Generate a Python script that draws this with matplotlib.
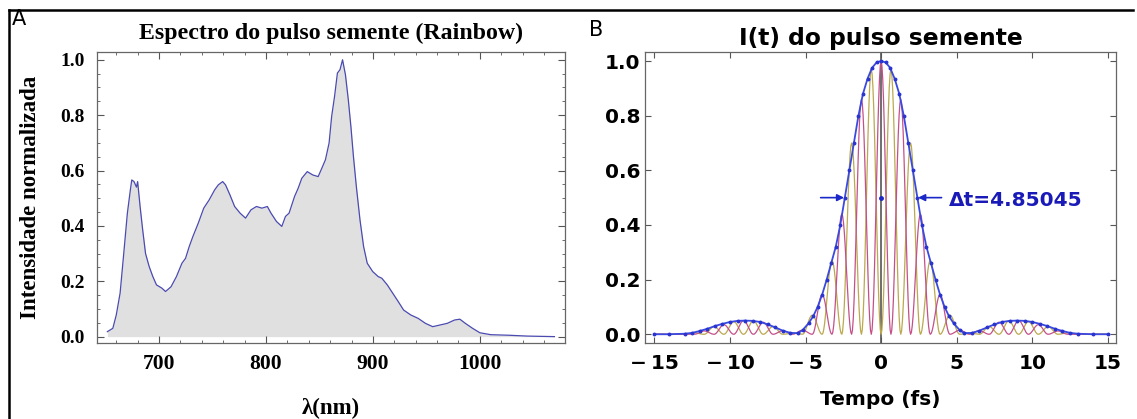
import matplotlib
matplotlib.use("Agg")
import matplotlib.pyplot as plt
import numpy as np
from matplotlib.lines import Line2D
from matplotlib.ticker import MultipleLocator, FuncFormatter

# Panel A: spectrum
wl = [651.7, 656.8, 660.0, 663.6, 667.0, 670.4, 673.2, 674.5, 676.6, 678.9, 680.0,
      682.3, 684.7, 687.4, 690.8, 694.2, 697.6, 702.7, 706.1, 711.2, 716.3, 721.4,
      724.8, 728.2, 731.6, 736.7, 741.8, 746.9, 752.0, 755.4, 759.5, 762.2, 766.3,
      770.7, 775.8, 780.9, 786.0, 791.1, 796.2, 801.3, 804.7, 809.8, 814.8, 818.2,
      821.6, 826.7, 830.1, 833.5, 838.6, 843.7, 848.8, 852.2, 855.6, 859.0, 861.4,
      864.1, 866.8, 869.2, 871.6, 874.3, 877.0, 879.4, 881.8, 884.5, 887.9, 891.3,
      894.7, 899.8, 904.9, 908.3, 913.4, 918.5, 923.6, 928.7, 935.5, 942.3, 949.1,
      955.9, 962.7, 969.5, 976.3, 981.3, 986.4, 993.2, 1000.0, 1010.2, 1027.2,
      1044.2, 1069.7]
spec = [0.018, 0.03, 0.078, 0.157, 0.30, 0.446, 0.53, 0.566, 0.56, 0.54, 0.56,
        0.47, 0.386, 0.30, 0.253, 0.217, 0.187, 0.175, 0.163, 0.18, 0.217, 0.265,
        0.283, 0.325, 0.361, 0.41, 0.464, 0.494, 0.53, 0.548, 0.56, 0.548, 0.512,
        0.47, 0.446, 0.428, 0.458, 0.47, 0.464, 0.47, 0.446, 0.416, 0.398, 0.434,
        0.446, 0.506, 0.536, 0.572, 0.596, 0.584, 0.578, 0.608, 0.639, 0.699, 0.795,
        0.867, 0.952, 0.964, 1.0, 0.946, 0.855, 0.759, 0.65, 0.542, 0.422, 0.325,
        0.265, 0.235, 0.217, 0.211, 0.187, 0.157, 0.127, 0.096, 0.078, 0.066, 0.048,
        0.036, 0.042, 0.048, 0.06, 0.063, 0.048, 0.03, 0.014, 0.007, 0.005,
        0.002, 0.0]

# Panel B: intensity envelope I(t)
t_env = [-15, -14, -13, -12.5, -12, -11.5, -11, -10.5, -10, -9.5, -9, -8.5, -8, -7.5,
         -7, -6.5, -6, -5.5, -5.2, -4.8, -4.5, -4.2, -3.9, -3.6, -3.3, -3.0, -2.7,
         -2.4, -2.1, -1.8, -1.5, -1.2, -0.9, -0.6, -0.3, 0,
         0.3, 0.6, 0.9, 1.2, 1.5, 1.8, 2.1, 2.4, 2.7, 3.0, 3.3, 3.6, 3.9, 4.2, 4.5,
         4.8, 5.2, 5.5, 6, 6.5, 7, 7.5, 8, 8.5, 9, 9.5, 10, 10.5, 11, 11.5, 12, 12.5,
         13, 14, 15]
I_env = [0.0, 0.0, 0.002, 0.005, 0.012, 0.02, 0.03, 0.038, 0.045, 0.049, 0.05, 0.049,
         0.045, 0.036, 0.025, 0.013, 0.005, 0.004, 0.015, 0.04, 0.065, 0.1, 0.145,
         0.2, 0.26, 0.32, 0.4, 0.5, 0.6, 0.7, 0.8, 0.88, 0.935, 0.975, 0.995, 1.0,
         0.995, 0.975, 0.935, 0.88, 0.8, 0.7, 0.6, 0.5, 0.4, 0.32, 0.26, 0.2, 0.145,
         0.1, 0.065, 0.04, 0.015, 0.004, 0.005, 0.013, 0.025, 0.036, 0.045, 0.049,
         0.05, 0.049, 0.045, 0.038, 0.03, 0.02, 0.012, 0.005, 0.002, 0.0, 0.0]

# carrier fringes: peak times and heights of the two coloured curves
pink_t = [-11.7, -10.4, -9.1, -7.8, -6.5, -5.2, -3.9, -2.6, -1.3, 0,
          1.3, 2.6, 3.9, 5.2, 6.5, 7.8, 9.1, 10.4, 11.7]
pink_I = [0.012, 0.035, 0.05, 0.044, 0.013, 0.015, 0.145, 0.44, 0.86, 1.0,
          0.86, 0.44, 0.145, 0.015, 0.013, 0.044, 0.05, 0.035, 0.012]
olive_t = [-12.35, -11.05, -9.75, -8.45, -7.15, -5.85, -4.55, -3.25, -1.95, -0.65,
           0.65, 1.95, 3.25, 4.55, 5.85, 7.15, 8.45, 9.75, 11.05, 12.35]
olive_I = [0.005, 0.028, 0.046, 0.049, 0.028, 0.004, 0.07, 0.27, 0.70, 0.97,
           0.97, 0.70, 0.27, 0.07, 0.004, 0.028, 0.049, 0.046, 0.028, 0.005]

fwhm_text = "\u0394t=4.85045"


def fringe(peaks_t, peaks_I, zeros_t):
    # one smooth lobe per peak, touching zero at the other curve's peaks
    xs, ys = [-15.0], [0.0]
    for tp, h in zip(peaks_t, peaks_I):
        left = max([z for z in zeros_t if z < tp], default=None)
        right = min([z for z in zeros_t if z > tp], default=None)
        if left is None:
            left = tp - (right - tp)
        if right is None:
            right = tp + (tp - left)
        s = np.linspace(0, 1, 25)
        xs.extend(left + s * (right - left))
        ys.extend(h * np.sin(np.pi * s) ** 2)
    xs.append(15.0)
    ys.append(0.0)
    return xs, ys


fig = plt.figure(figsize=(11.37, 4.19), dpi=100)

# outer frame lines (top and left)
fig.add_artist(Line2D([9 / 1137, 1133 / 1137], [1 - 10 / 419, 1 - 10 / 419],
                      transform=fig.transFigure, color="black", lw=1.8))
fig.add_artist(Line2D([9 / 1137, 9 / 1137], [0, 1 - 10 / 419],
                      transform=fig.transFigure, color="black", lw=1.8))

serif = "Liberation Serif"

# ---------- panel A ----------
ax1 = fig.add_axes([97 / 1137, 1 - 343 / 419, 468 / 1137, 291 / 419])
ax1.fill_between(wl, spec, 0, color="#e0e0e0", lw=0)
ax1.plot(wl, spec, color="#4a4ab0", lw=0.9)
ax1.set_xlim(642, 1079.6)
ax1.set_ylim(-0.023, 1.028)
ax1.xaxis.set_major_locator(MultipleLocator(100))
ax1.xaxis.set_minor_locator(MultipleLocator(20))
ax1.yaxis.set_major_locator(MultipleLocator(0.2))
ax1.yaxis.set_minor_locator(MultipleLocator(0.05))
ax1.yaxis.set_major_formatter(FuncFormatter(lambda v, p: f"{v:.1f}"))
ax1.tick_params(which="both", direction="in", top=True, right=True, color="#555555")
ax1.tick_params(which="major", length=5, width=0.8)
ax1.tick_params(which="minor", length=2.5, width=0.6)
ax1.tick_params(axis="x", pad=8)
ax1.tick_params(axis="y", pad=9)
for lab in ax1.get_xticklabels():
    lab.set_fontfamily(serif)
    lab.set_fontweight("bold")
    lab.set_fontsize(15.5)
for lab in ax1.get_yticklabels():
    lab.set_fontfamily(serif)
    lab.set_fontweight("bold")
    lab.set_fontsize(14)
for s in ax1.spines.values():
    s.set_color("#666666")
    s.set_linewidth(0.9)
ax1.set_title("Espectro do pulso semente (Rainbow)", fontfamily=serif,
              fontweight="bold", fontsize=17.2, pad=9)
ax1.set_xlabel("\u03bb(nm)", fontfamily=serif, fontweight="bold", fontsize=16.5,
               labelpad=17)
ax1.set_ylabel("Intensidade normalizada", fontfamily=serif, fontweight="bold",
               fontsize=16.5, labelpad=14)

# ---------- panel B ----------
ax2 = fig.add_axes([645 / 1137, 1 - 343 / 419, 471 / 1137, 291 / 419])
ax2.axvline(0, color="#555555", lw=1.2, zorder=1)

xo, yo = fringe(olive_t, olive_I, pink_t)
xp, yp = fringe(pink_t, pink_I, olive_t)
ax2.plot(xo, yo, color="#bba94e", lw=0.9, zorder=2)
ax2.plot(xp, yp, color="#c4508a", lw=0.9, zorder=3)
ax2.plot(t_env, I_env, color="#3a4ae0", lw=1.3, marker="o", ms=1.8,
         mec="#2a35d0", mfc="#2a35d0", zorder=4)

ax2.set_xlim(-15.62, 15.54)
ax2.set_ylim(-0.032, 1.033)
ax2.xaxis.set_major_locator(MultipleLocator(5))
ax2.yaxis.set_major_locator(MultipleLocator(0.2))
ax2.yaxis.set_major_formatter(FuncFormatter(lambda v, p: f"{v:.1f}"))
ax2.xaxis.set_major_formatter(FuncFormatter(
    lambda v, p: ("\u2212\u2009" + f"{-v:.0f}") if v < 0 else f"{v:.0f}"))
ax2.tick_params(which="both", direction="in", top=True, right=True, color="#555555",
                length=4, width=0.8, labelsize=14.5)
ax2.tick_params(axis="x", pad=8)
for lab in ax2.get_xticklabels() + ax2.get_yticklabels():
    lab.set_fontweight("bold")
for s in ax2.spines.values():
    s.set_color("#666666")
    s.set_linewidth(0.9)
ax2.set_title("I(t) do pulso semente", fontweight="bold", fontsize=16.8, pad=5)
ax2.set_xlabel("Tempo (fs)", fontweight="bold", fontsize=14.5, labelpad=12)

# FWHM arrows and label
ax2.annotate("", xy=(-2.45, 0.5), xytext=(-4.0, 0.5),
             arrowprops=dict(arrowstyle="-|>", color="#1a28c8", lw=1.2,
                             mutation_scale=10, shrinkA=0, shrinkB=0))
ax2.annotate("", xy=(2.45, 0.5), xytext=(4.0, 0.5),
             arrowprops=dict(arrowstyle="-|>", color="#1a28c8", lw=1.2,
                             mutation_scale=10, shrinkA=0, shrinkB=0))
ax2.plot([0], [0.5], "o", color="#1a28c8", ms=2.5, zorder=5)
ax2.text(4.5, 0.49, fwhm_text, color="#1a1ab8", fontweight="bold", fontsize=14.5,
         va="center", ha="left")

fig.text(12 / 1137, 1 - 19 / 419, "A", fontsize=15, va="center", ha="left")
fig.text(589 / 1137, 1 - 30 / 419, "B", fontsize=15, va="center", ha="left")

fig.savefig("out.png", dpi=100)
